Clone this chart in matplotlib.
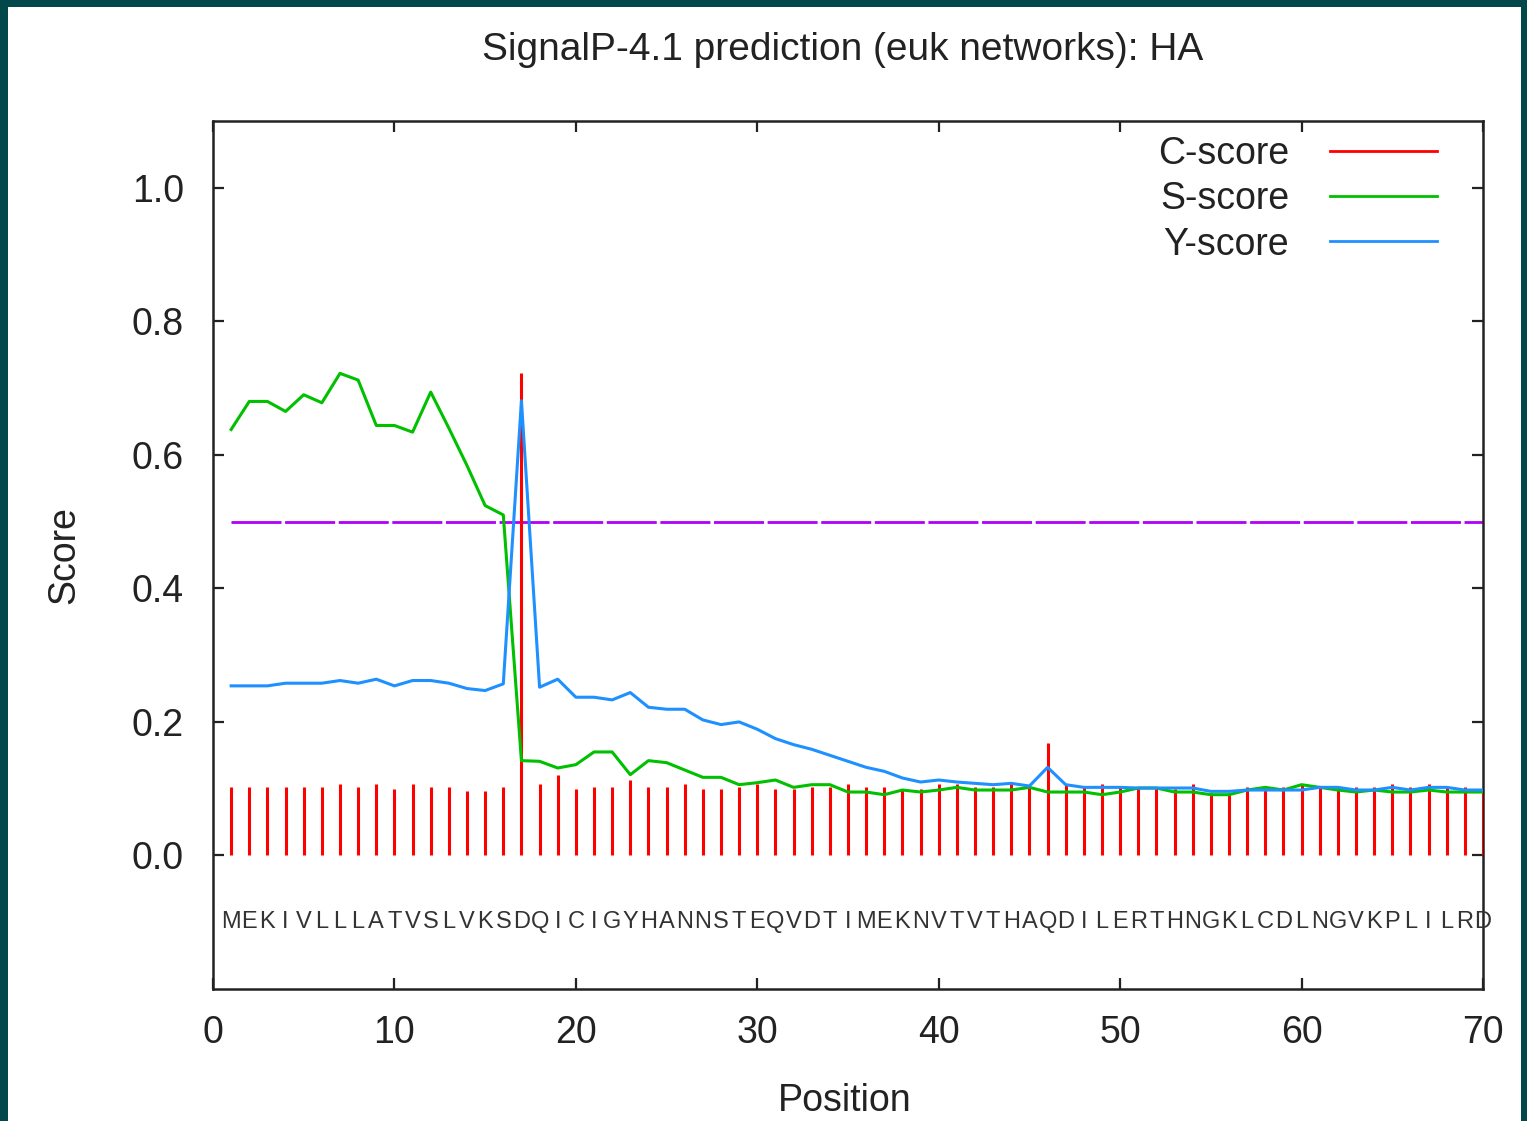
import matplotlib
matplotlib.use("Agg")
import matplotlib.pyplot as plt
from matplotlib.patches import Rectangle
from matplotlib.lines import Line2D

# ---------------- data ----------------
sequence = list("MEKIVLLLATVSLVKSDQICIGYHANNSTEQVDTIMEKNVTVTHAQDILERTHNGKLCDLNGVKPLILRD")
positions = list(range(1, len(sequence) + 1))

c_score = [0.103, 0.103, 0.103, 0.103, 0.103, 0.103, 0.107, 0.103, 0.107, 0.099,
           0.107, 0.103, 0.103, 0.096, 0.096, 0.103, 0.723, 0.107, 0.121, 0.099,
           0.103, 0.103, 0.113, 0.103, 0.103, 0.107, 0.100, 0.100, 0.103, 0.107,
           0.100, 0.100, 0.103, 0.103, 0.107, 0.103, 0.103, 0.100, 0.100, 0.107,
           0.107, 0.103, 0.103, 0.107, 0.103, 0.169, 0.107, 0.103, 0.107, 0.103,
           0.103, 0.103, 0.100, 0.107, 0.093, 0.093, 0.103, 0.103, 0.103, 0.107,
           0.103, 0.100, 0.103, 0.103, 0.107, 0.103, 0.107, 0.103, 0.103, 0.100]

s_score = [0.638, 0.680, 0.680, 0.665, 0.690, 0.678, 0.722, 0.712, 0.644, 0.644,
           0.634, 0.694, 0.640, 0.584, 0.524, 0.510, 0.142, 0.141, 0.131, 0.136,
           0.155, 0.155, 0.121, 0.142, 0.139, 0.128, 0.117, 0.117, 0.106, 0.109,
           0.113, 0.102, 0.106, 0.106, 0.095, 0.095, 0.091, 0.098, 0.095, 0.098,
           0.102, 0.098, 0.098, 0.098, 0.102, 0.095, 0.095, 0.095, 0.091, 0.095,
           0.101, 0.101, 0.095, 0.095, 0.091, 0.091, 0.098, 0.102, 0.098, 0.106,
           0.102, 0.098, 0.095, 0.098, 0.095, 0.095, 0.098, 0.095, 0.095, 0.095]

y_score = [0.254, 0.254, 0.254, 0.258, 0.258, 0.258, 0.262, 0.258, 0.264, 0.254,
           0.262, 0.262, 0.258, 0.250, 0.247, 0.257, 0.681, 0.252, 0.264, 0.237,
           0.237, 0.233, 0.244, 0.222, 0.219, 0.219, 0.203, 0.196, 0.200, 0.189,
           0.175, 0.166, 0.159, 0.150, 0.141, 0.132, 0.126, 0.116, 0.110, 0.113,
           0.110, 0.108, 0.106, 0.108, 0.104, 0.132, 0.106, 0.102, 0.102, 0.102,
           0.101, 0.101, 0.101, 0.101, 0.096, 0.096, 0.098, 0.098, 0.098, 0.098,
           0.102, 0.102, 0.098, 0.098, 0.102, 0.098, 0.102, 0.102, 0.098, 0.098]

cutoff = 0.5
title = "SignalP-4.1 prediction (euk networks): HA"
series_labels = ["C-score", "S-score", "Y-score"]
x_ticks = [0, 10, 20, 30, 40, 50, 60, 70]
y_ticks = [0.0, 0.2, 0.4, 0.6, 0.8, 1.0]

# ---------------- style ----------------
W, H = 1527, 1121
DPI = 100
FONT = ["Liberation Sans", "DejaVu Sans"]
TXT = "#222222"
RED = "#ff0000"
GREEN = "#00c000"
BLUE = "#1e90ff"
PURPLE = "#b000f8"

plt.rcParams["font.family"] = FONT

fig = plt.figure(figsize=(W / DPI, H / DPI), dpi=DPI)
fig.patch.set_facecolor("#02474a")
fig.patches.append(Rectangle((8 / W, 0), (1521 - 8) / W, (H - 7) / H,
                             transform=fig.transFigure, facecolor="white",
                             edgecolor="none", zorder=-10))

ax_l, ax_r, ax_t, ax_b = 213, 1483, 121, 989
ax = fig.add_axes([ax_l / W, 1 - ax_b / H, (ax_r - ax_l) / W, (ax_b - ax_t) / H])
ax.set_zorder(5)
ax.set_facecolor("white")
ax.set_xlim(0, 70)
ax.set_ylim(-0.2, 1.1)

# C-score impulses
ax.vlines(positions, 0, c_score, colors=RED, linewidth=2.2, zorder=3)
# S and Y lines
ax.plot(positions, s_score, color=GREEN, linewidth=2.2, zorder=4)
ax.plot(positions, y_score, color=BLUE, linewidth=2.2, zorder=4)
# cutoff line
ax.plot([positions[0], positions[-1]], [cutoff, cutoff], color=PURPLE,
        linewidth=2.0, dashes=(18, 1.3), zorder=2)

# sequence letters
for p, aa in zip(positions, sequence):
    ax.text(p, -0.1, aa, ha="center", va="center", fontsize=17,
            color="#333333", clip_on=False)

# axes styling
for s in ax.spines.values():
    s.set_linewidth(1.8)
    s.set_color("#222222")
ax.set_xticks(x_ticks)
ax.set_yticks(y_ticks)
ax.set_yticklabels([f"{v:.1f}" for v in y_ticks])
ax.tick_params(axis="both", direction="in", length=8, width=1.6,
               color="#222222", labelsize=27, labelcolor=TXT,
               top=True, right=True)
ax.tick_params(axis="y", pad=21)
ax.tick_params(axis="x", pad=19)

ax.set_xlabel("Position", fontsize=27, color=TXT)
ax.xaxis.set_label_coords(0.497, -0.108)
ax.set_ylabel("Score", fontsize=27, color=TXT)
ax.yaxis.set_label_coords(-0.103, 0.5)

fig.text(843 / W, 1 - 50 / H, title, ha="center", va="center",
         fontsize=28, color=TXT)

handles = [Line2D([], [], color=RED, linewidth=2.0),
           Line2D([], [], color=GREEN, linewidth=2.0),
           Line2D([], [], color=BLUE, linewidth=2.0)]
leg = ax.legend(handles, series_labels, loc="upper right",
                bbox_to_anchor=(0.964, 0.983), frameon=False, fontsize=27,
                markerfirst=False, handlelength=2.85, handletextpad=1.1,
                labelspacing=0.25, borderpad=0, borderaxespad=0)
for t in leg.get_texts():
    t.set_color(TXT)

fig.savefig("out.png", dpi=DPI, facecolor=fig.get_facecolor())
